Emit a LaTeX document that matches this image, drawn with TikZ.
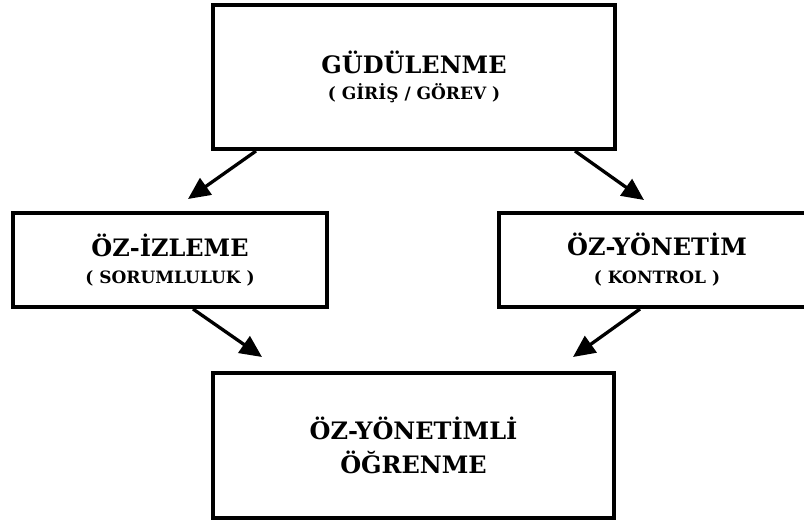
\documentclass[tikz,border=0pt]{standalone}
\usepackage{fontspec}
\setmainfont{DejaVu Serif}
\usetikzlibrary{arrows.meta,calc}
\begin{document}
\begin{tikzpicture}[x=1pt,y=-1pt,
  box/.style={draw=black,line width=4pt,rectangle,inner sep=0pt,align=center,
    font=\bfseries\fontsize{17}{26}\selectfont},
  boxb/.style={box,font=\bfseries\fontsize{24}{34}\selectfont},
  arr/.style={line width=3.3pt,-{Triangle[length=22pt,width=20pt]}},
]
\newcommand{\bigt}[1]{{\fontsize{24}{30}\selectfont #1}}
\newcommand{\smallt}[1]{{\fontsize{17}{20}\selectfont #1}}
\useasboundingbox[fill=white] (0,0) rectangle (804,520);
\node[box,minimum width=402pt,minimum height=144pt] (top) at (414,77)
  {\bigt{GÜDÜLENME}\\\smallt{( GİRİŞ / GÖREV )}};
\node[box,minimum width=314pt,minimum height=94pt] (left) at (170,260)
  {\bigt{ÖZ-İZLEME}\\[1pt]\smallt{( SORUMLULUK )}};
\node[box,minimum width=316pt,minimum height=94pt] (right) at (657,260)
  {\bigt{ÖZ-YÖNETİM}\\[2pt]\smallt{( KONTROL )}};
\node[boxb,minimum width=401pt,minimum height=145pt] (bot) at (413.5,445.5)
  {ÖZ-YÖNETİMLİ\\ÖĞRENME};
\coordinate (e1) at (188,199);
\coordinate (e2) at (644,200);
\coordinate (e3) at (262,357);
\coordinate (e4) at (573,357);
\draw[arr] ([xshift=45pt]top.south west) -- (e1);
\draw[arr] ([xshift=-42pt]top.south east) -- (e2);
\draw[arr] ([xshift=23pt]left.south) -- (e3);
\draw[arr] ([xshift=143pt]right.south west) -- (e4);
\end{tikzpicture}
\end{document}
